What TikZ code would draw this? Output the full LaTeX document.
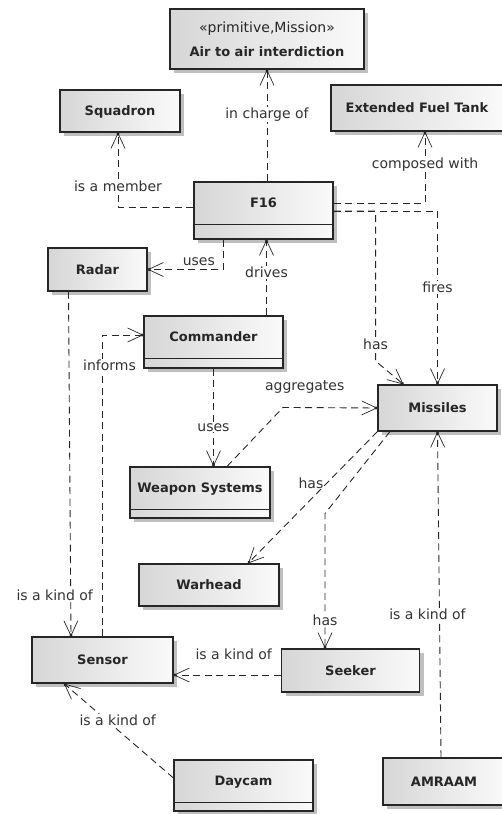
\documentclass[tikz,border=0pt]{standalone}
\usepackage{fontspec}
\setmainfont{DejaVu Sans}
\usetikzlibrary{arrows.meta, shadows}

\begin{document}
\begin{tikzpicture}[x=1pt, y=-1pt,
    boxlook/.style={rectangle, draw=black!85, line width=1.1pt, left color=black!16, right color=black!2,
        drop shadow={shadow xshift=4pt, shadow yshift=-4pt, fill=black!25, opacity=1}},
    classbox/.style={boxlook, font=\bfseries\fontsize{13}{15}\selectfont, text=black!85,
        text height=9.5pt, text depth=0pt},
    twopart/.style={classbox, minimum height=42pt+#1, text depth=#1},
    dep/.style={draw=black!85, line width=0.9pt, dash pattern=on 7pt off 4.5pt,
        -{Straight Barb[length=15pt, width=14pt, line width=0.7pt, sep=-3pt] Circle[length=3pt]}},
    lab/.style={font=\fontsize{14}{16}\selectfont, text=black!80, fill=white, inner sep=1pt}]
    \useasboundingbox (0,0) rectangle (502,814);

    % Nodes
    \node (mission) [boxlook, minimum width=194pt, minimum height=60pt, align=center,
        font=\bfseries\fontsize{13}{22}\selectfont, text=black!85] at (267,39)
        {{\mdseries\fontsize{14}{16}\selectfont «primitive,Mission»}\\[2pt]Air to air interdiction};
    \node (squadron) [classbox, minimum width=120pt, minimum height=42pt] at (120,111) {Squadron};
    \node (fuel) [classbox, minimum width=172pt, minimum height=46pt] at (417,108) {Extended Fuel Tank};
    \node (f16) [twopart=15pt, minimum width=139pt] at (263.5,210.5) {F16};
    \node (radar) [classbox, minimum width=99pt, minimum height=43pt] at (97.5,269.5) {Radar};
    \node (commander) [twopart=10pt, minimum width=139pt] at (213.5,342) {Commander};
    \node (missiles) [classbox, minimum width=119pt, minimum height=46pt] at (437.5,408) {Missiles};
    \node (weapons) [twopart=9pt, minimum width=140pt] at (200,492.5) {Weapon Systems};
    \node (warhead) [classbox, minimum width=140pt, minimum height=42pt] at (209,585) {Warhead};
    \node (sensor) [classbox, minimum width=141pt, minimum height=46pt] at (102.5,660) {Sensor};
    \node (seeker) [classbox, minimum width=138pt, minimum height=43pt] at (350.5,670.5) {Seeker};
    \node (daycam) [twopart=9pt, minimum width=139pt] at (243.5,785.5) {Daycam};
    \node (amraam) [classbox, minimum width=122pt, minimum height=47pt] at (444,781.5) {AMRAAM};

    % Compartments
    \foreach \n/\h in {f16/15, commander/10, weapons/9, daycam/9}
        \draw[draw=black!85, line width=1.1pt] ([yshift=\h pt]\n.south west) -- ([yshift=\h pt]\n.south east);

    % Arrows
    \draw[dep] (mission.south |- f16.north) -- node[lab, pos=0.6] {in charge of} (mission.south);
    \draw[dep] ([yshift=3.5pt]f16.west) -| node[lab, pos=0.64] {is a member} ([xshift=-2pt]squadron.south);
    \draw[dep] ([yshift=7.5pt]f16.east) -| node[lab, pos=0.77] {composed with} ([xshift=8pt]fuel.south);
    \draw[dep] ([yshift=-0.5pt]f16.east) -| node[lab, pos=0.72] {fires} (missiles.north);
    \draw[dep] ([yshift=-0.5pt]f16.east) -- ++(42,0) -- node[lab, pos=0.89] {has} ++(0,150)
        -- ([xshift=-34pt]missiles.north);
    \draw[dep] ([xshift=-40.5pt]f16.south) |- node[lab, pos=0.66, above, yshift=2pt] {uses} (radar.east);
    \draw[dep] ([xshift=53pt]commander.north) -- node[lab, pos=0.57] {drives} ([xshift=53pt]commander.north |- f16.south);
    \draw[dep] (sensor.north) |- node[lab, pos=0.45, xshift=7pt] {informs} ([yshift=7pt]commander.west);
    \draw[dep] ([xshift=-29pt]radar.south) -- node[lab, pos=0.88, xshift=-16pt] {is a kind of} ([xshift=-31.5pt]sensor.north);
    \draw[dep] (commander.south) -- node[lab, pos=0.6] {uses} (commander.south |- weapons.north);
    \draw[dep] ([xshift=27pt]weapons.north) -- ++(56,-59) -- node[lab, pos=0.23, yshift=21pt] {aggregates} (missiles.west);
    \draw[dep] (missiles.south west) -- node[lab, pos=0.39, xshift=-16pt] {has} ([xshift=39pt]warhead.north);
    \draw[dep] ([xshift=-47.5pt]missiles.south) -- ++(-65,82) -- node[lab, pos=0.79] {has} ([xshift=-25.5pt]seeker.north);
    \draw[dep] ([xshift=-3pt]amraam.north) -- node[lab, pos=0.44, xshift=-12pt] {is a kind of} (missiles.south);
    \draw[dep] ([yshift=-4.5pt]seeker.west) -- node[lab, pos=0.44, yshift=21pt] {is a kind of} ([yshift=-4.5pt]seeker.west -| sensor.east);
    \draw[dep] ([yshift=7.5pt]daycam.west) -- node[lab, pos=0.61, xshift=11pt] {is a kind of} ([xshift=-38.5pt]sensor.south);
\end{tikzpicture}
\end{document}
